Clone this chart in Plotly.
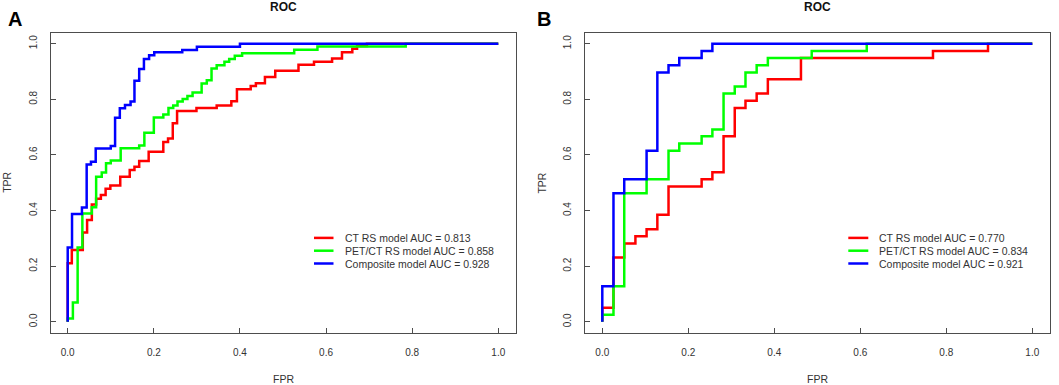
import plotly.graph_objects as go

# ---------------- data ----------------
# Each series: FPR position of each vertical riser and TPR at top of the riser
# Panel A
a_ct_fpr = [0, 0, 0.0095, 0.035, 0.045, 0.056, 0.066, 0.077, 0.088, 0.099,
            0.122, 0.144, 0.155, 0.166, 0.188, 0.222, 0.233, 0.244, 0.254, 0.299,
            0.346, 0.380, 0.393, 0.425, 0.437, 0.458, 0.482, 0.536, 0.572, 0.614,
            0.637, 0.661, 0.672, 0.695, 1]
a_ct_tpr = [0, 0.211, 0.258, 0.321, 0.366, 0.422, 0.443, 0.456, 0.479, 0.490,
            0.522, 0.546, 0.558, 0.578, 0.612, 0.647, 0.659, 0.714, 0.758, 0.769,
            0.778, 0.793, 0.836, 0.848, 0.858, 0.880, 0.903, 0.924, 0.935, 0.947,
            0.969, 0.982, 0.992, 1, 1]

a_pet_fpr = [0, 0, 0.012, 0.023, 0.034, 0.056, 0.066, 0.079, 0.089, 0.100,
             0.123, 0.166, 0.178, 0.200, 0.222, 0.234, 0.245, 0.255, 0.267, 0.278,
             0.290, 0.311, 0.323, 0.334, 0.346, 0.364, 0.375, 0.388, 0.405, 0.526,
             0.580, 0.785, 1]
a_pet_tpr = [0, 0.012, 0.070, 0.267, 0.390, 0.412, 0.522, 0.537, 0.570, 0.580,
             0.624, 0.634, 0.680, 0.735, 0.746, 0.769, 0.778, 0.792, 0.801, 0.812,
             0.825, 0.857, 0.869, 0.911, 0.923, 0.935, 0.945, 0.957, 0.966, 0.978,
             0.990, 1, 1]

a_comp_fpr = [0, 0, 0.010, 0.033, 0.044, 0.054, 0.065, 0.100, 0.110, 0.121,
              0.133, 0.146, 0.155, 0.166, 0.177, 0.189, 0.201, 0.266, 0.300, 0.400, 1]
a_comp_tpr = [0, 0.267, 0.388, 0.411, 0.566, 0.576, 0.623, 0.632, 0.734, 0.768,
              0.780, 0.792, 0.867, 0.909, 0.945, 0.959, 0.969, 0.977, 0.989, 1, 1]

# Panel B
b_ct_fpr = [0, 0, 0.026, 0.051, 0.077, 0.103, 0.128, 0.154, 0.231, 0.256,
            0.282, 0.308, 0.333, 0.359, 0.385, 0.462, 0.769, 0.897, 1]
b_ct_tpr = [0, 0.051, 0.231, 0.282, 0.308, 0.333, 0.385, 0.487, 0.513, 0.538,
            0.667, 0.769, 0.795, 0.821, 0.872, 0.949, 0.974, 1, 1]

b_pet_fpr = [0, 0, 0.026, 0.051, 0.103, 0.154, 0.179, 0.231, 0.256, 0.282,
             0.308, 0.333, 0.359, 0.385, 0.487, 0.615, 1]
b_pet_tpr = [0, 0.026, 0.128, 0.462, 0.513, 0.615, 0.641, 0.667, 0.692, 0.821,
             0.846, 0.897, 0.923, 0.949, 0.974, 1, 1]

b_comp_fpr = [0, 0, 0.026, 0.051, 0.103, 0.128, 0.154, 0.179, 0.231, 0.256, 1]
b_comp_tpr = [0, 0.128, 0.462, 0.513, 0.615, 0.897, 0.923, 0.949, 0.974, 1, 1]

series_names_a = ["CT RS model AUC = 0.813", "PET/CT RS model AUC = 0.858",
                  "Composite model AUC = 0.928"]
series_names_b = ["CT RS model AUC = 0.770", "PET/CT RS model AUC = 0.834",
                  "Composite model AUC = 0.921"]
series_colors = ["#FF0000", "#00FF00", "#0000FF"]
panel_labels = ["A", "B"]
panel_title = "ROC"
x_title = "FPR"
y_title = "TPR"
tick_vals = [0, 0.2, 0.4, 0.6, 0.8, 1.0]

# ---------------- figure ----------------
W, H = 1059, 385
FONT = "Liberation Sans, Arial, sans-serif"


def px(x):
    return x / W


def py(y):
    return 1 - y / H


fig = go.Figure()

panels = [
    ("x", "y", [(a_ct_fpr, a_ct_tpr), (a_pet_fpr, a_pet_tpr), (a_comp_fpr, a_comp_tpr)]),
    ("x2", "y2", [(b_ct_fpr, b_ct_tpr), (b_pet_fpr, b_pet_tpr), (b_comp_fpr, b_comp_tpr)]),
]
for xa, ya, series in panels:
    for (fx, ty), col in zip(series, series_colors):
        fig.add_trace(go.Scatter(x=fx, y=ty, mode="lines", line_shape="hv",
                                 line=dict(color=col, width=2.5),
                                 xaxis=xa, yaxis=ya, showlegend=False,
                                 hoverinfo="skip"))

# plot-area pixel boxes: (left, right) horizontally, top/bottom vertically
boxes = [(50.5, 515.5), (585.1, 1049.5)]
top, bottom = 32.6, 333.0

axis_common = dict(range=[-0.04, 1.04], tickvals=tick_vals, tickformat=".1f",
                   ticks="inside", ticklen=5, tickwidth=1, tickcolor="#4d4d4d",
                   showline=True, linecolor="#4d4d4d", linewidth=1, mirror=True,
                   showgrid=False, zeroline=False,
                   tickfont=dict(family=FONT, size=10, color="#333333"))

fig.update_layout(
    xaxis=dict(domain=[px(boxes[0][0]), px(boxes[0][1])], anchor="y",
               ticklabelstandoff=10, **axis_common),
    yaxis=dict(domain=[py(bottom), py(top)], anchor="x", tickangle=-90,
               ticklabelstandoff=9, **axis_common),
    xaxis2=dict(domain=[px(boxes[1][0]), px(boxes[1][1])], anchor="y2",
                ticklabelstandoff=10, **axis_common),
    yaxis2=dict(domain=[py(bottom), py(top)], anchor="x2", tickangle=-90,
                ticklabelstandoff=9, **axis_common),
)

annotations = []
shapes = []
names_per_panel = [series_names_a, series_names_b]
panel_letter_x = [15, 543.5]
ylab_x = [7, 541.8]
legend_line_x = [(314, 333.5), (848.3, 868.3)]
legend_text_x = [343, 877.3]
legend_rows_y = [237.9, 250.7, 263.5]

for i, (l, r) in enumerate(boxes):
    cx = (l + r) / 2
    annotations.append(dict(text="<b>" + panel_title + "</b>", x=px(cx), y=py(7),
                            xref="paper", yref="paper", showarrow=False,
                            xanchor="center", yanchor="middle",
                            font=dict(family=FONT, size=12, color="#111111")))
    annotations.append(dict(text="<b>" + panel_labels[i] + "</b>", x=px(panel_letter_x[i]),
                            y=py(19), xref="paper", yref="paper", showarrow=False,
                            xanchor="center", yanchor="middle",
                            font=dict(family=FONT, size=20, color="#000000")))
    annotations.append(dict(text=x_title, x=px(cx), y=py(378.5), xref="paper", yref="paper",
                            showarrow=False, xanchor="center", yanchor="middle",
                            font=dict(family=FONT, size=10.5, color="#333333")))
    annotations.append(dict(text=y_title, x=px(ylab_x[i]), y=py((top + bottom) / 2),
                            xref="paper", yref="paper", showarrow=False, textangle=-90,
                            xanchor="center", yanchor="middle",
                            font=dict(family=FONT, size=10.5, color="#333333")))
    for name, col, ry in zip(names_per_panel[i], series_colors, legend_rows_y):
        shapes.append(dict(type="line", xref="paper", yref="paper",
                           x0=px(legend_line_x[i][0]), x1=px(legend_line_x[i][1]),
                           y0=py(ry), y1=py(ry), line=dict(color=col, width=2.5)))
        annotations.append(dict(text=name, x=px(legend_text_x[i]), y=py(ry),
                                xref="paper", yref="paper", showarrow=False,
                                xanchor="left", yanchor="middle",
                                font=dict(family=FONT, size=10.5, color="#333333")))

fig.update_layout(
    width=W, height=H, autosize=False,
    margin=dict(l=0, r=0, t=0, b=0),
    paper_bgcolor="white", plot_bgcolor="white",
    annotations=annotations, shapes=shapes,
    showlegend=False,
)

fig.write_html("out.html",
               config={"displayModeBar": False, "staticPlot": True},
               post_script="document.body.style.margin='0px';"
                           "document.body.style.padding='0px';"
                           "document.body.style.overflow='hidden';")
